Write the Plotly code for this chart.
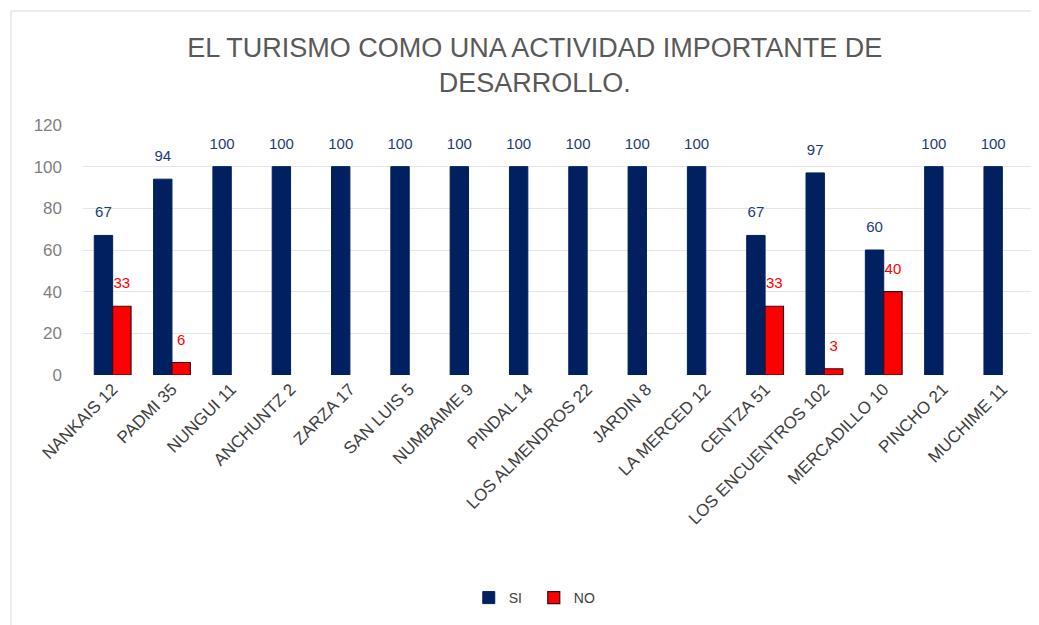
import plotly.graph_objects as go

categories = ["NANKAIS 12", "PADMI 35", "NUNGUI 11", "ANCHUNTZ 2", "ZARZA 17", "SAN LUIS 5",
              "NUMBAIME 9", "PINDAL 14", "LOS ALMENDROS 22", "JARDIN 8", "LA MERCED 12",
              "CENTZA 51", "LOS ENCUENTROS 102", "MERCADILLO 10", "PINCHO 21", "MUCHIME 11"]
si_values = [67, 94, 100, 100, 100, 100, 100, 100, 100, 100, 100, 67, 97, 60, 100, 100]
no_values = [33, 6, 0, 0, 0, 0, 0, 0, 0, 0, 0, 33, 3, 40, 0, 0]
y_ticks = [0, 20, 40, 60, 80, 100, 120]

navy = "#002060"
red = "#FF0000"
label_tpl = "<span style='font-size:15px'>%{text}</span><br> "

fig = go.Figure()
fig.add_trace(go.Bar(
    name="SI", x=categories, y=si_values,
    marker=dict(color=navy, line=dict(color=navy, width=1)),
    text=[str(v) for v in si_values], textposition="outside",
    texttemplate=label_tpl,
    textfont=dict(color="#1f3a7a", size=10, family="Liberation Sans"),
    constraintext="none", cliponaxis=False,
))
fig.add_trace(go.Bar(
    name="NO", x=categories, y=no_values,
    marker=dict(color=red, line=dict(color="#3a0a14", width=[1.2 if v else 0 for v in no_values])),
    text=[str(v) if v else "" for v in no_values], textposition="outside",
    texttemplate=label_tpl,
    textfont=dict(color=red, size=10, family="Liberation Sans"),
    constraintext="none", cliponaxis=False,
))

fig.update_layout(
    width=1031, height=617,
    paper_bgcolor="white", plot_bgcolor="white",
    barmode="group", bargap=0.38, bargroupgap=0.0,
    margin=dict(l=75, r=7, t=117, b=250),
    title=dict(text="EL TURISMO COMO UNA ACTIVIDAD IMPORTANTE DE<br>DESARROLLO.",
               x=0.511, xanchor="center", y=0.92, yanchor="top",
               font=dict(size=27, color="#595959", family="Liberation Sans")),
    font=dict(family="Liberation Sans", color="#595959"),
    legend=dict(orientation="h", x=0.475, xanchor="center", y=-0.892, yanchor="middle",
                font=dict(size=14, color="#404040"), itemwidth=30, entrywidth=20),
    showlegend=True,
    shapes=[dict(type="rect", xref="paper", yref="paper", x0=-0.0759, x1=1.02, y0=-1.1, y1=1.456,
                 line=dict(color="#d9d9d9", width=1), fillcolor="rgba(0,0,0,0)")],
)
fig.update_yaxes(range=[0, 120], tickvals=y_ticks, showgrid=True, gridcolor="#e6e6e6",
                 zeroline=False, showline=False, ticklabelstandoff=20,
                 tickfont=dict(size=17, color="#7f7f7f"), ticklen=0, ticks="")
fig.update_xaxes(tickangle=-45, tickfont=dict(size=17, color="#404040", family="Liberation Sans"),
                 showline=False, ticks="")

fig.write_html("out.html")
